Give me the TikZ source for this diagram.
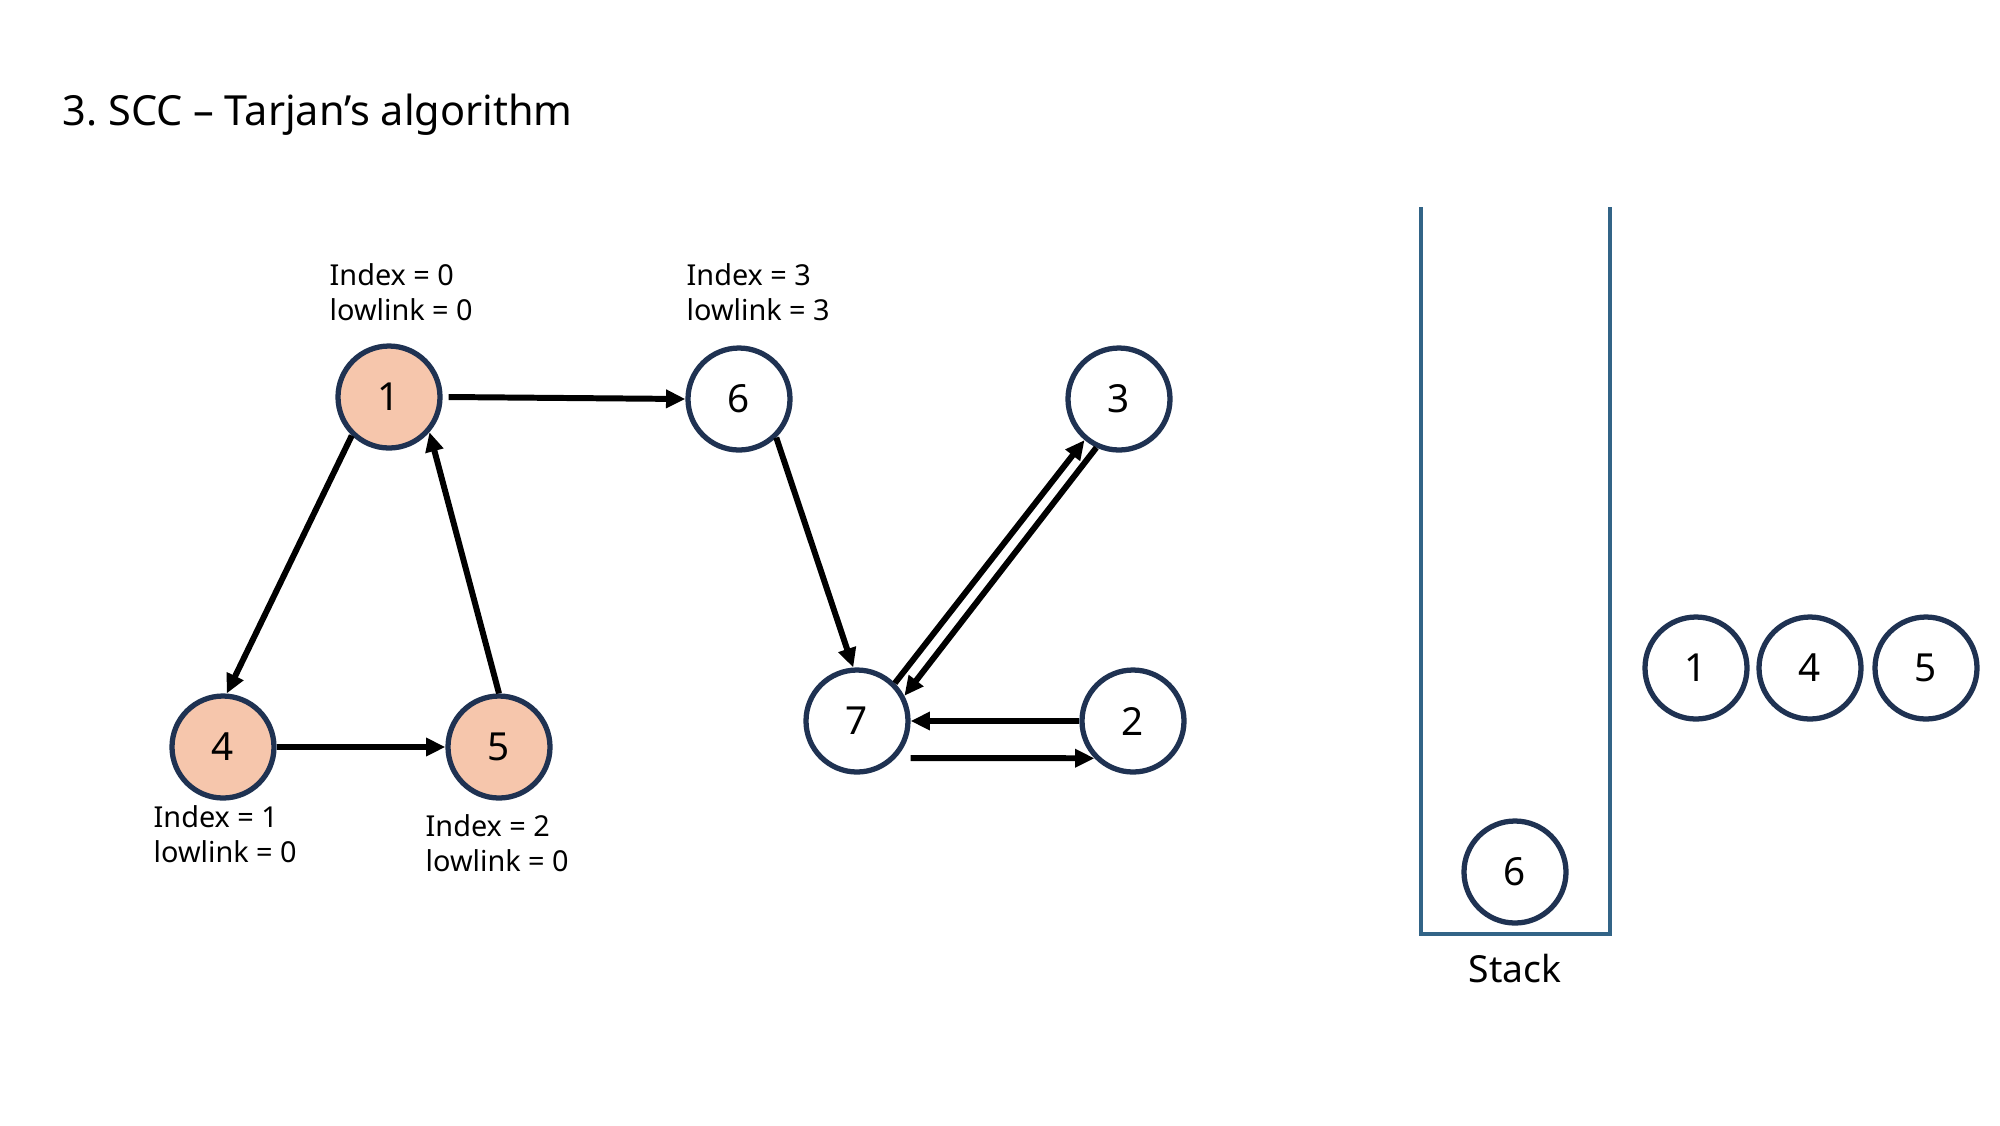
\documentclass[tikz,border=0pt]{standalone}
\usepackage{fontspec}
\setmainfont{Noto Sans}
\usetikzlibrary{arrows.meta}
\definecolor{navy}{RGB}{31,50,82}
\definecolor{peach}{RGB}{246,198,172}
\definecolor{stackblue}{RGB}{50,100,135}
\frenchspacing

\begin{document}
\begin{tikzpicture}[
    vtx/.style={circle,draw=navy,line width=1.5pt,minimum size=1.02cm,inner sep=0pt,font=\fontsize{11}{13}\selectfont},
    visited/.style={vtx,fill=peach},
    edge/.style={-{Triangle[length=5.5pt,width=5pt]},line width=1.7pt},
    info/.style={anchor=west,align=left,inner sep=0pt,font=\fontsize{8.2}{9.8}\selectfont}]
          \useasboundingbox (0,0) rectangle (20,-11.25);
          \node[anchor=west,inner sep=0pt,font=\fontsize{11.8}{14}\selectfont] (title) at (0.62,-1.15) {3. SCC -- Tarjan’s algorithm};
          % graph
          \node[visited] (n1) at (3.89,-3.97) {1};
          \node[vtx] (n6) at (7.39,-3.99) {6};
          \node[vtx] (n3) at (11.19,-3.99) {3};
          \node[vtx] (n7) at (8.57,-7.21) {7};
          \node[vtx] (n2) at (11.33,-7.21) {2};
          \node[visited] (n4) at (2.23,-7.47) {4};
          \node[visited] (n5) at (4.99,-7.47) {5};
          \node[info] (i1) at (3.29,-2.92) {Index = 0\\lowlink = 0};
          \node[info] (i6) at (6.86,-2.92) {Index = 3\\lowlink = 3};
          \node[info] (i4) at (1.53,-8.34) {Index = 1\\lowlink = 0};
          \node[info] (i5) at (4.25,-8.43) {Index = 2\\lowlink = 0};
          \draw[edge] ([xshift=0.6mm]n1.east) -- (n6.west);
          \draw[edge] (n1.226) -- (n4.86);
          \draw[edge] (n4) -- (n5);
          \draw[edge] (n5.90) -- (n1.-41);
          \draw[edge] (n6.-46) -- (n7.94);
          \draw[edge] (n7.45) -- (n3.-130);
          \draw[edge] (n3.-115) -- (n7.28);
          \draw[edge] (n2) -- (n7);
          \draw[edge] ([yshift=-3.7mm]n7.east) -- (n2.224);
          % stack
          \draw[stackblue,line width=1pt] (14.21,-2.07) -- (14.21,-9.34) -- (16.10,-9.34) -- (16.10,-2.07);
          \node[font=\fontsize{10.6}{13}\selectfont] (stk) at (15.15,-9.69) {Stack};
          \node[vtx] (s6) at (15.15,-8.72) {6};
          \foreach \x/\v in {16.96/1,18.10/4,19.26/5} \node[vtx] (s\v) at (\x,-6.68) {\v};
        \end{tikzpicture}
\end{document}
